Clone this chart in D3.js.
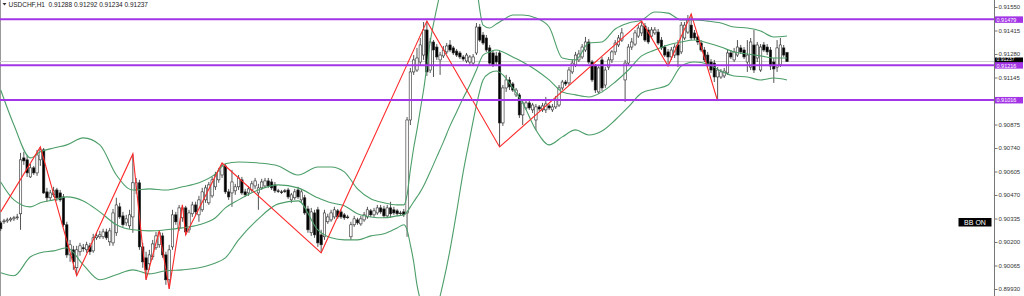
<!DOCTYPE html>
<html><head><meta charset="utf-8">
<script src="https://cdn.jsdelivr.net/npm/d3@7"></script>
<style>html,body{margin:0;padding:0;background:#fff;overflow:hidden}svg{display:block}</style>
</head><body>
<svg id="chart" width="1024" height="296"></svg>
<script>
const headerText = "USDCHF,H1  0.91288 0.91292 0.91234 0.91237";
const badgeText = "BB ON";
const tickValues = [0.91550,0.91415,0.91280,0.91145,0.91010,0.90875,0.90740,0.90605,0.90470,0.90335,0.90200,0.90065,0.89930];
const levelPrices = [0.91479,0.91216,0.91016];
const bidPrice = 0.91237;

const openPx = [
0.90310,0.90316,0.90321,0.90327,0.90333,0.90339,0.90362,0.90683,0.90672,0.90574,
0.90626,0.90597,0.90672,0.90729,0.90488,0.90454,0.90471,0.90499,0.90482,0.90459,
0.90299,0.90126,0.90155,0.90052,0.90144,0.90167,0.90155,0.90178,0.90149,0.90224,
0.90230,0.90230,0.90258,0.90201,0.90195,0.90253,0.90402,0.90350,0.90310,0.90293,
0.90344,0.90499,0.90540,0.90172,0.90109,0.90075,0.90115,0.90167,0.90184,0.90235,
0.90126,0.89983,0.90172,0.90356,0.90281,0.90339,0.90396,0.90270,0.90362,0.90413,
0.90356,0.90385,0.90442,0.90425,0.90465,0.90517,0.90557,0.90585,0.90637,0.90488,
0.90482,0.90494,0.90517,0.90557,0.90488,0.90482,0.90499,0.90522,0.90482,0.90511,
0.90522,0.90551,0.90545,0.90528,0.90494,0.90488,0.90494,0.90499,0.90442,0.90454,
0.90499,0.90442,0.90454,0.90390,0.90253,0.90367,0.90385,0.90241,0.90230,0.90316,
0.90327,0.90344,0.90379,0.90373,0.90356,0.90344,0.90230,0.90299,0.90327,0.90304,
0.90327,0.90344,0.90379,0.90356,0.90367,0.90396,0.90390,0.90350,0.90396,0.90385,
0.90379,0.90367,0.90373,0.90367,0.90901,0.91177,0.91188,0.91234,0.91274,0.91418,
0.91188,0.91349,0.91320,0.91246,0.91269,0.91292,0.91332,0.91315,0.91297,0.91286,
0.91263,0.91240,0.91234,0.91228,0.91286,0.91435,0.91389,0.91372,0.91315,0.91286,
0.91269,0.91286,0.90884,0.91085,0.91131,0.91108,0.91045,0.91045,0.90930,0.90970,
0.90999,0.90959,0.90901,0.90976,0.90959,0.90959,0.90982,0.90959,0.90976,0.90987,
0.91085,0.91119,0.91114,0.91177,0.91217,0.91246,0.91263,0.91303,0.91349,0.91234,
0.91211,0.91062,0.91246,0.91102,0.91205,0.91246,0.91292,0.91332,0.91360,0.91131,
0.91228,0.91320,0.91337,0.91383,0.91401,0.91441,0.91418,0.91383,0.91401,0.91406,
0.91360,0.91320,0.91292,0.91263,0.91274,0.91332,0.91292,0.91372,0.91406,0.91446,
0.91401,0.91378,0.91343,0.91303,0.91274,0.91234,0.91228,0.91148,0.91148,0.91154,
0.91171,0.91286,0.91246,0.91274,0.91315,0.91303,0.91234,0.91205,0.91332,0.91257,
0.91188,0.91332,0.91320,0.91303,0.91234,0.91205,0.91217,0.91315,0.91288];

const highPx = [
0.90321,0.90333,0.90339,0.90344,0.90350,0.90362,0.90712,0.90718,0.90700,0.90649,
0.90637,0.90729,0.90746,0.90740,0.90511,0.90499,0.90517,0.90511,0.90499,0.90476,
0.90316,0.90212,0.90178,0.90178,0.90195,0.90189,0.90201,0.90195,0.90247,0.90253,
0.90264,0.90276,0.90276,0.90281,0.90390,0.90454,0.90425,0.90373,0.90356,0.90385,
0.90706,0.90568,0.90557,0.90195,0.90144,0.90155,0.90212,0.90258,0.90264,0.90253,
0.90144,0.90184,0.90385,0.90373,0.90413,0.90413,0.90408,0.90385,0.90431,0.90431,
0.90465,0.90511,0.90528,0.90545,0.90574,0.90603,0.90626,0.90654,0.90649,0.90505,
0.90614,0.90534,0.90585,0.90574,0.90505,0.90522,0.90551,0.90568,0.90534,0.90563,
0.90568,0.90568,0.90563,0.90545,0.90505,0.90499,0.90505,0.90511,0.90482,0.90505,
0.90517,0.90505,0.90471,0.90408,0.90396,0.90385,0.90402,0.90270,0.90385,0.90362,
0.90385,0.90402,0.90390,0.90385,0.90367,0.90356,0.90316,0.90350,0.90339,0.90350,
0.90373,0.90402,0.90390,0.90396,0.90413,0.90413,0.90408,0.90413,0.90431,0.90402,
0.90390,0.90379,0.90390,0.90918,0.91200,0.91274,0.91315,0.91372,0.91464,0.91469,
0.91372,0.91360,0.91337,0.91292,0.91326,0.91343,0.91360,0.91326,0.91309,0.91297,
0.91274,0.91286,0.91274,0.91280,0.91458,0.91452,0.91406,0.91389,0.91332,0.91303,
0.91292,0.91303,0.91102,0.91160,0.91148,0.91119,0.91085,0.91056,0.91016,0.91010,
0.91010,0.90999,0.90993,0.90987,0.90999,0.91033,0.90993,0.90993,0.91039,0.91102,
0.91131,0.91131,0.91205,0.91246,0.91292,0.91303,0.91337,0.91378,0.91366,0.91246,
0.91223,0.91217,0.91263,0.91205,0.91263,0.91303,0.91360,0.91389,0.91429,0.91246,
0.91337,0.91372,0.91418,0.91446,0.91469,0.91458,0.91435,0.91435,0.91435,0.91424,
0.91378,0.91332,0.91309,0.91320,0.91337,0.91360,0.91464,0.91464,0.91504,0.91510,
0.91418,0.91389,0.91360,0.91320,0.91292,0.91251,0.91246,0.91205,0.91194,0.91200,
0.91303,0.91303,0.91315,0.91360,0.91332,0.91320,0.91360,0.91372,0.91418,0.91349,
0.91337,0.91349,0.91337,0.91320,0.91257,0.91360,0.91372,0.91332,0.91292];

const lowPx = [
0.90264,0.90304,0.90310,0.90316,0.90321,0.90327,0.90270,0.90643,0.90574,0.90568,
0.90585,0.90580,0.90637,0.90476,0.90431,0.90436,0.90459,0.90436,0.90431,0.90287,
0.90109,0.90086,0.90040,0.90006,0.90121,0.90144,0.90138,0.90126,0.90138,0.90212,
0.90218,0.90218,0.90212,0.90178,0.90178,0.90235,0.90333,0.90287,0.90293,0.90276,
0.90253,0.90476,0.90155,0.90052,0.89983,0.90040,0.90098,0.90155,0.90167,0.90109,
0.89954,0.89931,0.90155,0.90299,0.90264,0.90316,0.90241,0.90253,0.90344,0.90356,
0.90316,0.90373,0.90425,0.90413,0.90454,0.90499,0.90540,0.90568,0.90476,0.90442,
0.90402,0.90471,0.90499,0.90471,0.90459,0.90465,0.90488,0.90505,0.90385,0.90499,
0.90511,0.90511,0.90499,0.90482,0.90482,0.90476,0.90482,0.90448,0.90425,0.90442,
0.90448,0.90425,0.90356,0.90253,0.90235,0.90224,0.90172,0.90138,0.90212,0.90304,
0.90316,0.90333,0.90333,0.90333,0.90327,0.90333,0.90212,0.90287,0.90299,0.90293,
0.90316,0.90333,0.90344,0.90344,0.90356,0.90362,0.90339,0.90339,0.90339,0.90356,
0.90350,0.90356,0.90344,0.90230,0.90872,0.91160,0.91177,0.91211,0.91246,0.91154,
0.91171,0.91148,0.91246,0.91160,0.91257,0.91280,0.91292,0.91274,0.91263,0.91251,
0.91240,0.91228,0.91217,0.91217,0.91274,0.91349,0.91332,0.91292,0.91211,0.91205,
0.91211,0.90746,0.90867,0.91062,0.91073,0.91062,0.91033,0.90913,0.90872,0.90959,
0.90959,0.90941,0.90844,0.90953,0.90947,0.90941,0.90959,0.90947,0.90964,0.90976,
0.91073,0.91096,0.91102,0.91165,0.91205,0.91234,0.91251,0.91292,0.91223,0.91119,
0.91056,0.91050,0.91068,0.91085,0.91188,0.91228,0.91274,0.91320,0.91349,0.91005,
0.91217,0.91303,0.91326,0.91372,0.91383,0.91349,0.91337,0.91372,0.91389,0.91332,
0.91303,0.91263,0.91211,0.91246,0.91257,0.91205,0.91280,0.91360,0.91395,0.91360,
0.91360,0.91332,0.91292,0.91234,0.91205,0.91171,0.91119,0.91010,0.91137,0.91142,
0.91160,0.91251,0.91234,0.91263,0.91280,0.91251,0.91177,0.91188,0.91171,0.91234,
0.91177,0.91292,0.91274,0.91188,0.91114,0.91177,0.91205,0.91263,0.91234];

const closePx = [
0.90276,0.90321,0.90327,0.90333,0.90339,0.90344,0.90672,0.90666,0.90597,0.90626,
0.90597,0.90700,0.90729,0.90482,0.90454,0.90482,0.90494,0.90454,0.90442,0.90299,
0.90126,0.90184,0.90086,0.90155,0.90178,0.90161,0.90184,0.90144,0.90224,0.90235,
0.90241,0.90258,0.90224,0.90264,0.90367,0.90413,0.90344,0.90299,0.90333,0.90356,
0.90540,0.90540,0.90172,0.90086,0.90040,0.90126,0.90189,0.90235,0.90253,0.90126,
0.89983,0.90155,0.90356,0.90316,0.90396,0.90396,0.90258,0.90367,0.90413,0.90373,
0.90442,0.90488,0.90511,0.90528,0.90557,0.90585,0.90608,0.90637,0.90488,0.90459,
0.90545,0.90517,0.90568,0.90482,0.90471,0.90505,0.90534,0.90551,0.90511,0.90545,
0.90551,0.90522,0.90511,0.90494,0.90493,0.90487,0.90493,0.90459,0.90471,0.90488,
0.90459,0.90488,0.90367,0.90270,0.90373,0.90241,0.90195,0.90184,0.90367,0.90344,
0.90367,0.90385,0.90344,0.90344,0.90339,0.90343,0.90299,0.90333,0.90310,0.90333,
0.90356,0.90385,0.90356,0.90379,0.90396,0.90373,0.90350,0.90396,0.90362,0.90367,
0.90362,0.90366,0.90356,0.90901,0.91177,0.91246,0.91257,0.91332,0.91418,0.91177,
0.91349,0.91303,0.91263,0.91274,0.91303,0.91326,0.91303,0.91286,0.91274,0.91263,
0.91251,0.91274,0.91263,0.91263,0.91435,0.91360,0.91343,0.91303,0.91228,0.91217,
0.91234,0.90884,0.91085,0.91131,0.91091,0.91073,0.91073,0.90930,0.90999,0.90999,
0.90970,0.90987,0.90976,0.90964,0.90982,0.90993,0.90970,0.90976,0.91016,0.91085,
0.91119,0.91108,0.91188,0.91228,0.91274,0.91280,0.91320,0.91349,0.91234,0.91131,
0.91073,0.91200,0.91085,0.91188,0.91246,0.91292,0.91343,0.91372,0.91401,0.91228,
0.91320,0.91349,0.91401,0.91429,0.91441,0.91360,0.91349,0.91418,0.91418,0.91343,
0.91315,0.91274,0.91263,0.91303,0.91320,0.91274,0.91446,0.91446,0.91475,0.91372,
0.91372,0.91349,0.91303,0.91246,0.91217,0.91188,0.91148,0.91188,0.91177,0.91182,
0.91286,0.91263,0.91292,0.91320,0.91292,0.91263,0.91274,0.91349,0.91188,0.91332,
0.91320,0.91303,0.91292,0.91211,0.91194,0.91315,0.91332,0.91274,0.91237];

const bandIdx = [0,4,9,12,16,20,25,30,35,40,45,50,55,60,65,68,72,78,84,90,96,100,104,108,112,116,120,122,123,124,125,126,127,128,130,132,134,136,138,140,142,144,146,148,150,152,155,158,162,166,170,174,178,182,186,190,194,198,202,206,210,214,218,222,226,230,234,238];
const bandUpper = [
0.91073,0.90872,0.90683,0.90718,0.90740,0.90758,0.90798,0.90758,0.90585,0.90499,
0.90505,0.90499,0.90517,0.90540,0.90591,0.90649,0.90660,0.90654,0.90637,0.90585,
0.90631,0.90631,0.90603,0.90505,0.90448,0.90425,0.90413,0.90413,0.90471,0.90614,
0.90740,0.90844,0.90959,0.91073,0.91349,0.91544,0.91705,0.91848,0.91906,0.91877,
0.91791,0.91659,0.91446,0.91429,0.91452,0.91475,0.91504,0.91504,0.91487,0.91435,
0.91257,0.91246,0.91343,0.91349,0.91424,0.91458,0.91475,0.91521,0.91515,0.91475,
0.91475,0.91469,0.91458,0.91435,0.91429,0.91412,0.91378,0.91383];
const bandMiddle = [
0.90545,0.90442,0.90402,0.90425,0.90442,0.90459,0.90436,0.90373,0.90299,0.90270,
0.90264,0.90270,0.90281,0.90299,0.90339,0.90396,0.90442,0.90499,0.90528,0.90511,
0.90454,0.90425,0.90408,0.90362,0.90344,0.90339,0.90350,0.90356,0.90373,0.90402,
0.90431,0.90459,0.90488,0.90522,0.90603,0.90689,0.90775,0.90867,0.90947,0.91027,
0.91102,0.91188,0.91274,0.91292,0.91303,0.91292,0.91263,0.91234,0.91188,0.91131,
0.91062,0.91045,0.91033,0.91062,0.91119,0.91188,0.91269,0.91303,0.91332,0.91349,
0.91360,0.91343,0.91320,0.91292,0.91280,0.91269,0.91257,0.91257];
const bandLower = [
0.90023,0.90006,0.90115,0.90138,0.90149,0.90167,0.90069,0.89983,0.90012,0.90040,
0.90017,0.90035,0.90040,0.90052,0.90080,0.90109,0.90212,0.90333,0.90419,0.90436,
0.90270,0.90224,0.90212,0.90212,0.90235,0.90247,0.90281,0.90299,0.90270,0.90184,
0.90086,0.89954,0.89868,0.89799,0.89765,0.89822,0.89971,0.90155,0.90373,0.90603,
0.90798,0.90987,0.91131,0.91171,0.91182,0.91160,0.91085,0.90999,0.90844,0.90758,
0.90804,0.90844,0.90815,0.90838,0.90901,0.90976,0.91056,0.91079,0.91102,0.91211,
0.91234,0.91223,0.91182,0.91154,0.91148,0.91131,0.91142,0.91131];

const zigIdx = [0,12,23,40,44,48,51,55,56,67,97,129,151,194,202,209,217];
const zigPrice = [0.90373,0.90746,0.90006,0.90706,0.89983,0.90264,0.89931,0.90413,0.90241,0.90654,0.90138,0.91469,0.90746,0.91469,0.91211,0.91510,0.91010];

// ---------- drawing ----------
const FONT = "'Liberation Sans', Arial, sans-serif";
const W = 1024, H = 296, AXIS_X = 994;
const N = closePx.length;
const svg = d3.select("#chart");
const fmt = d3.format(".5f");

const x = d3.scaleLinear().domain([0, N - 1]).range([0.7, 787]);
const y = d3.scaleLinear().domain([tickValues[tickValues.length - 1], tickValues[0]]).range([289, 7]);

svg.append("rect").attr("width", W).attr("height", H).attr("fill", "#fff");
svg.append("defs").append("clipPath").attr("id", "plot")
  .append("rect").attr("x", 0).attr("y", 0).attr("width", AXIS_X).attr("height", H);

svg.append("line").attr("x1", 0.5).attr("x2", 0.5).attr("y1", 0).attr("y2", H)
  .attr("stroke", "#9a9a9a").attr("stroke-width", 1);

const g = svg.append("g").attr("clip-path", "url(#plot)");

// bid line
g.append("line").attr("x1", 0).attr("x2", AXIS_X)
  .attr("y1", y(bidPrice)).attr("y2", y(bidPrice))
  .attr("stroke", "#d0d0d0").attr("stroke-width", 1);

// candles
const idx = d3.range(N);
const cg = g.append("g");
cg.selectAll("line").data(idx).join("line")
  .attr("x1", i => x(i)).attr("x2", i => x(i))
  .attr("y1", i => y(highPx[i])).attr("y2", i => y(lowPx[i]))
  .attr("stroke", "#2a2a2a").attr("stroke-width", 0.8);
cg.selectAll("rect").data(idx).join("rect")
  .attr("x", i => x(i) - 1.2).attr("width", 2.4)
  .attr("y", i => y(Math.max(openPx[i], closePx[i])))
  .attr("height", i => Math.max(0.8, Math.abs(y(openPx[i]) - y(closePx[i]))))
  .attr("fill", i => closePx[i] >= openPx[i] ? "#ffffff" : "#000000")
  .attr("stroke", "#2a2a2a").attr("stroke-width", 0.6);

// bollinger bands
const bandGen = d3.line().x((d, k) => x(bandIdx[k])).y(d => y(d)).curve(d3.curveMonotoneX);
[bandUpper, bandMiddle, bandLower].forEach(arr => {
  g.append("path").attr("d", bandGen(arr)).attr("fill", "none")
    .attr("stroke", "#4c9e69").attr("stroke-width", 1.1);
});

// zigzag
const zigGen = d3.line().x((d, k) => x(zigIdx[k])).y(d => y(d));
g.append("path").attr("d", zigGen(zigPrice)).attr("fill", "none")
  .attr("stroke", "#ff2a2a").attr("stroke-width", 1.1);

// horizontal levels
g.selectAll("line.level").data(levelPrices).join("line").attr("class", "level")
  .attr("x1", 0).attr("x2", AXIS_X)
  .attr("y1", d => y(d)).attr("y2", d => y(d))
  .attr("stroke", "#a435e6").attr("stroke-width", 2);

// price axis
svg.append("line").attr("x1", AXIS_X + 0.5).attr("x2", AXIS_X + 0.5).attr("y1", 0).attr("y2", H)
  .attr("stroke", "#777").attr("stroke-width", 1);
const ax = svg.append("g").attr("transform", `translate(${AXIS_X + 0.5},0)`)
  .call(d3.axisRight(y).tickValues(tickValues).tickFormat(fmt).tickSize(3).tickPadding(1));
ax.select(".domain").remove();
ax.selectAll("line").attr("stroke", "#777");
ax.selectAll("text").attr("font-family", FONT).attr("font-size", 6).attr("fill", "#333");
// tick labels hidden under a price tag (as in the terminal) are not drawn
const tagPrices = levelPrices.concat([bidPrice]);
ax.selectAll(".tick").filter(d => tagPrices.some(p => Math.abs(y(p) - y(d)) < 5))
  .select("text").remove();

// price tags (bid tag sits just above the 0.91216 tag, as in the terminal)
function tag(price, fill, boxTop, boxH, base, fs) {
  svg.append("rect").attr("x", AXIS_X + 1).attr("y", boxTop).attr("width", 28).attr("height", boxH).attr("fill", fill);
  svg.append("text").attr("x", AXIS_X + 2.5).attr("y", base).text(fmt(price))
    .attr("font-family", FONT).attr("font-size", fs).attr("fill", "#fff");
}
const yb = y(bidPrice);
tag(bidPrice, "#000", yb - 4, 5.5, yb - 0.2, 5);
levelPrices.forEach(p => { const yy = y(p); tag(p, "#a435e6", yy - 3, 6.5, yy + 2.4, 5.5); });

// header
svg.append("path").attr("d", "M2.5,3 L6.5,3 L4.5,5.6 Z").attr("fill", "#333");
svg.append("text").attr("x", 8.5).attr("y", 6.8).text(headerText)
  .attr("font-family", FONT).attr("font-size", 6.5).attr("fill", "#222")
  .style("white-space", "pre").attr("xml:space", "preserve");

// BB ON badge
svg.append("rect").attr("x", 958.5).attr("y", 218).attr("width", 33).attr("height", 8.5).attr("fill", "#000");
svg.append("text").attr("x", 975).attr("y", 225).attr("text-anchor", "middle").text(badgeText)
  .attr("font-family", FONT).attr("font-size", 7).attr("fill", "#fff");
</script>
</body></html>
